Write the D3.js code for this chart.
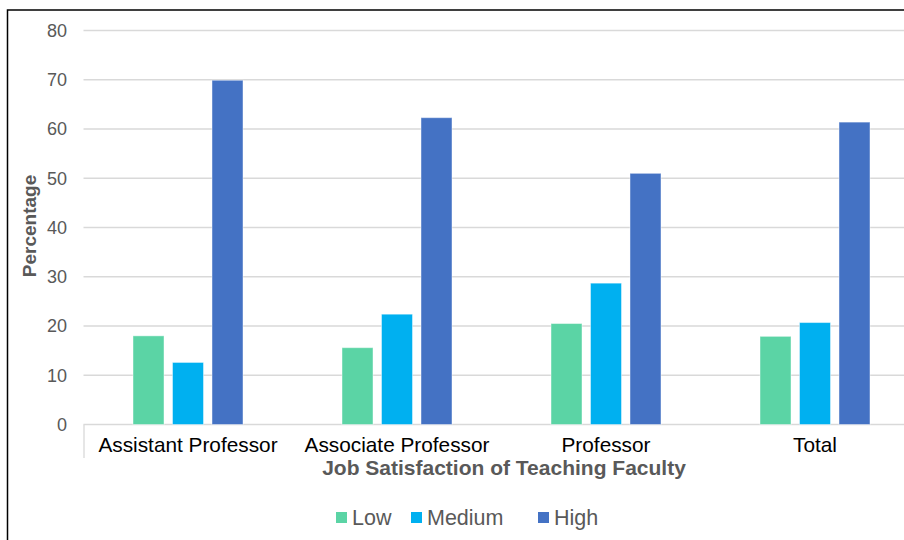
<!DOCTYPE html>
<html>
<head>
<meta charset="utf-8">
<script src="https://cdn.jsdelivr.net/npm/d3@7"></script>
<style>
  html, body { margin: 0; padding: 0; background: #fff; }
  svg { display: block; font-family: "Liberation Sans", Arial, Helvetica, sans-serif; }
</style>
</head>
<body>
<svg id="chart" width="904" height="540"></svg>
<script>
// Job satisfaction of teaching faculty by rank (percent)
const categories = ["Assistant Professor", "Associate Professor", "Professor", "Total"];
const seriesNames = ["Low", "Medium", "High"];
const lowValues = [18.0, 15.6, 20.5, 17.9];
const mediumValues = [12.6, 22.4, 28.7, 20.7];
const highValues = [69.9, 62.3, 51.0, 61.4];
const yTicks = [0, 10, 20, 30, 40, 50, 60, 70, 80];
const colors = ["#5bd4a5", "#00b0f0", "#4472c4"];

const seriesValues = [lowValues, mediumValues, highValues];
const rows = categories.map((c, i) => ({
  category: c,
  values: seriesNames.map((s, j) => ({ series: s, value: seriesValues[j][i], color: colors[j] }))
}));

const svg = d3.select("#chart");

// outer frame (left and top edges)
svg.append("path")
  .attr("d", "M7.5,540 V10 H904")
  .attr("fill", "none")
  .attr("stroke", "#000")
  .attr("stroke-width", 1.5);

const plotLeft = 83.5, plotRight = 919.5;
const y = d3.scaleLinear().domain([0, 80]).range([424.5, 30.5]);
const x0 = d3.scaleBand().domain(categories).range([plotLeft, plotRight]).padding(0);
const groupWidth = 110;
const x1 = d3.scaleBand().domain(seriesNames)
  .range([(x0.bandwidth() - groupWidth) / 2, (x0.bandwidth() + groupWidth) / 2])
  .paddingInner(0.215).paddingOuter(0);

// horizontal gridlines
svg.append("g").selectAll("line")
  .data(yTicks)
  .join("line")
  .attr("x1", plotLeft).attr("x2", 904)
  .attr("y1", d => y(d)).attr("y2", d => y(d))
  .attr("stroke", "#d9d9d9")
  .attr("stroke-width", 1.3);

// y axis tick labels
const yAxis = d3.axisLeft(y).tickValues(yTicks).tickSize(0).tickPadding(0);
const yg = svg.append("g")
  .attr("transform", "translate(67,0)")
  .call(yAxis);
yg.select(".domain").remove();
yg.selectAll("text")
  .attr("fill", "#595959")
  .attr("font-size", 18)
  .attr("font-family", "Liberation Sans, Arial, sans-serif");

// left category boundary tick
svg.append("line")
  .attr("x1", plotLeft + 0.5).attr("x2", plotLeft + 0.5)
  .attr("y1", y(0)).attr("y2", 458)
  .attr("stroke", "#d9d9d9")
  .attr("stroke-width", 1.3);

// bars
const groups = svg.append("g").selectAll("g")
  .data(rows)
  .join("g")
  .attr("transform", d => `translate(${x0(d.category)},0)`);

groups.selectAll("rect")
  .data(d => d.values)
  .join("rect")
  .attr("x", d => x1(d.series))
  .attr("width", x1.bandwidth())
  .attr("y", d => y(d.value))
  .attr("height", d => y(0) - y(d.value))
  .attr("fill", d => d.color)
  .attr("stroke", "rgba(255,255,255,0.45)")
  .attr("stroke-width", 1);

// x axis category labels
const xAxis = d3.axisBottom(x0).tickSize(0).tickPadding(0);
const xg = svg.append("g")
  .attr("transform", "translate(0,437)")
  .call(xAxis);
xg.select(".domain").remove();
xg.selectAll("text")
  .attr("fill", "#000")
  .attr("font-size", 20.8)
  .attr("font-family", "Liberation Sans, Arial, sans-serif");

// axis titles
svg.append("text")
  .attr("x", 504).attr("y", 475)
  .attr("text-anchor", "middle")
  .attr("font-size", 21)
  .attr("font-weight", "bold")
  .attr("fill", "#595959")
  .text("Job Satisfaction of Teaching Faculty");

svg.append("text")
  .attr("transform", "translate(36,226) rotate(-90)")
  .attr("text-anchor", "middle")
  .attr("font-size", 19)
  .attr("font-weight", "bold")
  .attr("fill", "#595959")
  .text("Percentage");

// legend
const legendX = [336, 411, 538];
const legend = svg.append("g").selectAll("g")
  .data(seriesNames)
  .join("g")
  .attr("transform", (d, i) => `translate(${legendX[i]},512)`);
legend.append("rect")
  .attr("width", 11).attr("height", 11)
  .attr("fill", (d, i) => colors[i]);
legend.append("text")
  .attr("x", 16).attr("y", 13)
  .attr("font-size", 21.5)
  .attr("fill", "#595959")
  .text(d => d);
</script>
</body>
</html>
